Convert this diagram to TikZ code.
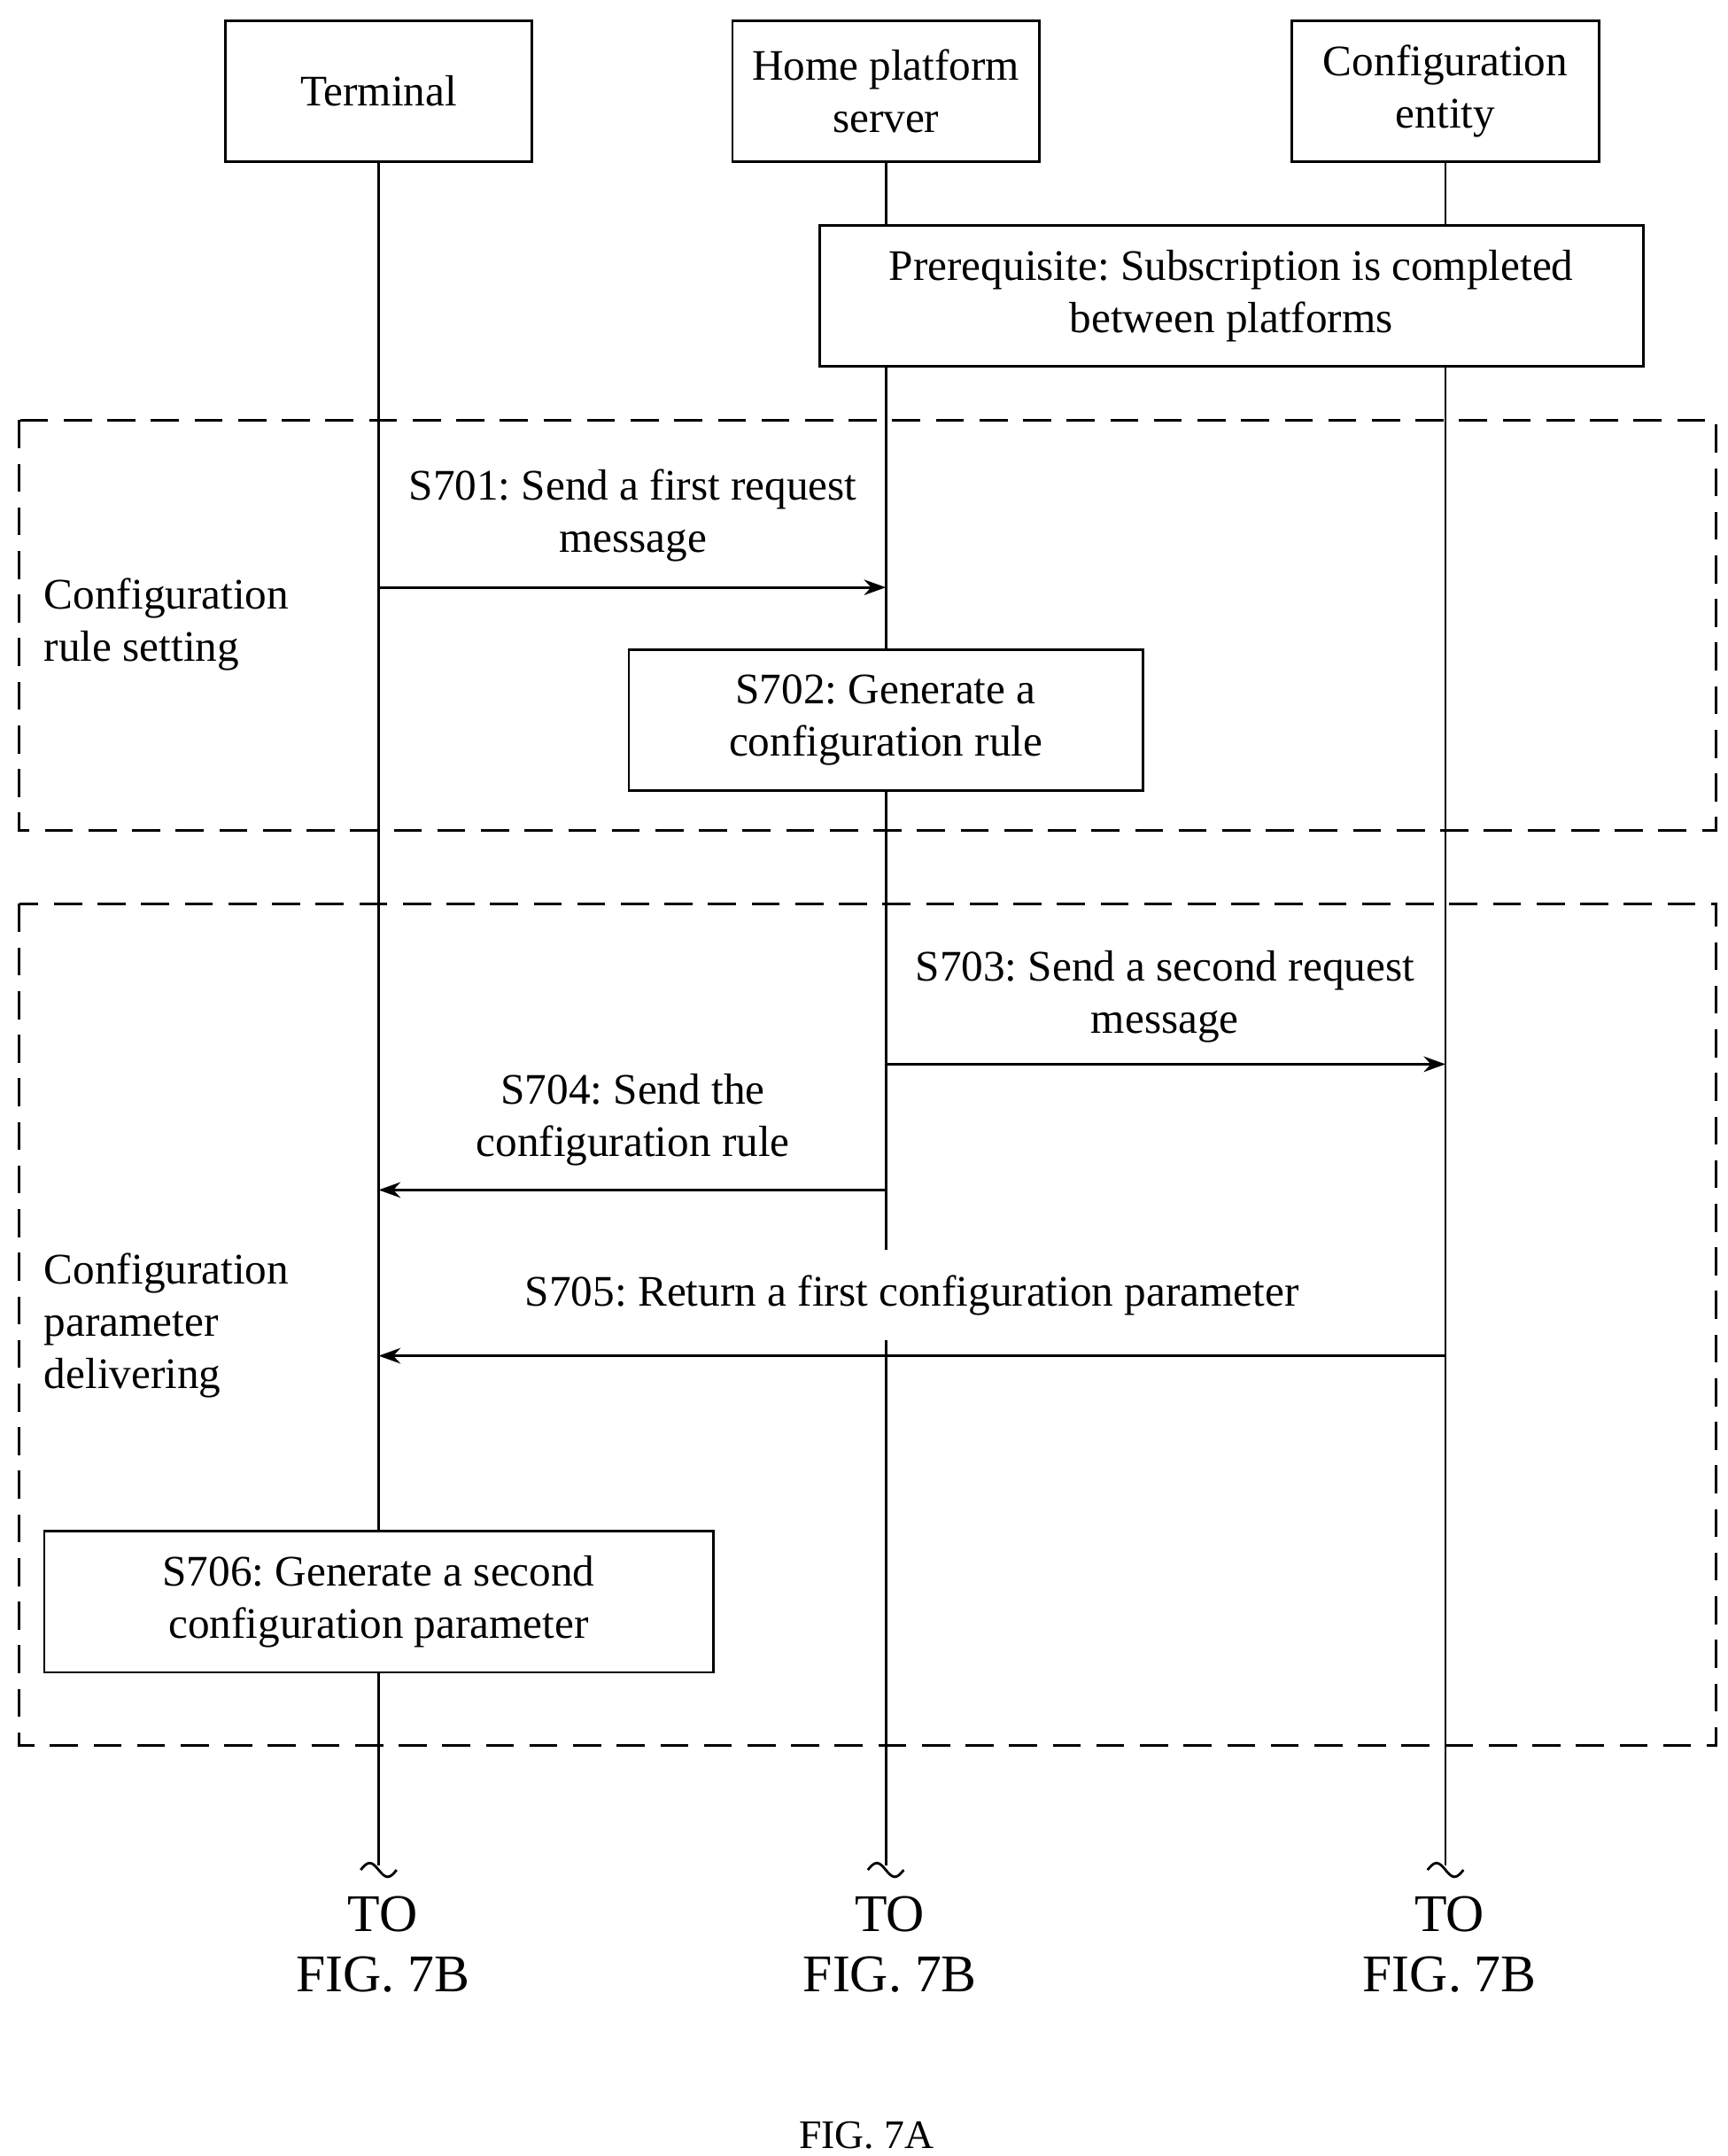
\documentclass[tikz,border=0pt]{standalone}
\usepackage{fontspec}
\setmainfont{Liberation Serif}
\usetikzlibrary{arrows.meta}
\frenchspacing
\begin{document}
\begin{tikzpicture}[x=0.0156cm,y=-0.0156cm,>={Stealth[length=7pt,width=5pt]},
    every node/.style={font=\fontsize{14}{16.8}\selectfont, align=center},
    box/.style={draw, thick, inner sep=0pt},
    frame/.style={draw, thick, dashed, dash pattern=on 9pt off 5pt},
    msg/.style={thick,->},
    life/.style={thick},
    fig/.style={font=\fontsize{17}{19.5}\selectfont}]
            % page size
            \useasboundingbox (0,0) rectangle (1250,1560);

            % participants
            \node[box, minimum width=222*0.0156cm, minimum height=102*0.0156cm] (term) at (274,66) {Terminal};
            \node[box, minimum width=222*0.0156cm, minimum height=102*0.0156cm] (home) at (641,66) {Home platform\\server};
            \node[box, minimum width=222*0.0156cm, minimum height=102*0.0156cm] (conf) at (1046,66) {Configuration\\entity};

            % prerequisite
            \node[box, minimum width=596*0.0156cm, minimum height=102*0.0156cm] (pre) at (891,214) {Prerequisite: Subscription is completed\\between platforms};

            % dashed phases
            \draw[frame] (14,304) rectangle (1242,601);
            \draw[frame] (14,654) rectangle (1242,1263);
            \node[anchor=west, align=left] (rule) at (24,452) {Configuration\\rule setting};
            \node[anchor=west, align=left] (param) at (24,959) {Configuration\\parameter\\delivering};

            % boxes on lifelines
            \node[box, fill=white, minimum width=372*0.0156cm, minimum height=102*0.0156cm] (s702) at (641,521) {S702: Generate a\\configuration rule};
            \node[box, fill=white, minimum width=484*0.0156cm, minimum height=102*0.0156cm] (s706) at (274,1159) {S706: Generate a second\\configuration parameter};

            % lifeline ends
            \coordinate (termEnd) at (274,1350);
            \coordinate (homeEnd) at (641,1350);
            \coordinate (confEnd) at (1046,1350);

            % lifelines
            \draw[life] (term.south) -- (s706.north);
            \draw[life] (s706.south) -- (termEnd);
            \draw[life] (home.south) -- (pre.north -| home);
            \draw[life] (pre.south -| home) -- (s702.north);
            \draw[life] (s702.south) -- (homeEnd);
            \draw[life] (conf.south) -- (pre.north -| conf);
            \draw[life] (pre.south -| conf) -- (confEnd);

            % messages
            \coordinate (a1) at (274,425); \coordinate (b1) at (641,425);
            \draw[msg] (a1) -- (b1);
            \node (l701) at (458,373) {S701: Send a first request\\message};
            \coordinate (a3) at (641,770); \coordinate (b3) at (1046,770);
            \draw[msg] (a3) -- (b3);
            \node (l703) at (843,721) {S703: Send a second request\\message};
            \coordinate (a4) at (641,861); \coordinate (b4) at (274,861);
            \draw[msg] (a4) -- (b4);
            \node (l704) at (458,810) {S704: Send the\\configuration rule};
            \coordinate (a5) at (1046,981); \coordinate (b5) at (274,981);
            \draw[msg] (a5) -- (b5);
            \node[fill=white, inner ysep=8pt] (l705) at (660,937) {S705: Return a first configuration parameter};

            % break marks and continuation
            \foreach \p/\x in {termEnd/274, homeEnd/641, confEnd/1046} {
                \draw[thick] (\x-13,1353) sin (\x-6.5,1348) cos (\x,1353) sin (\x+6.5,1358) cos (\x+13,1353);
                \node[fig] (to\p) at (\x+3,1407) {TO\\FIG. 7B};
            }

            % caption
            \node[font=\fontsize{13}{15}\selectfont] (cap) at (627,1545) {FIG. 7A};
\end{tikzpicture}
\end{document}
